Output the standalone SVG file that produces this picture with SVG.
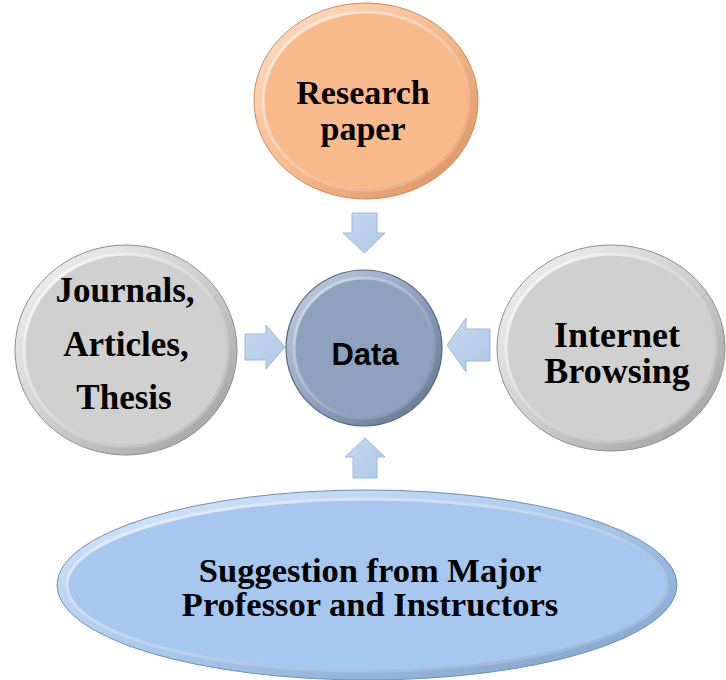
<svg xmlns="http://www.w3.org/2000/svg" width="726" height="680" viewBox="0 0 726 680">
  <style>
    text.serif { font-family: 'Liberation Serif', 'Times New Roman', Tinos, 'DejaVu Serif', serif; font-weight: 700; fill: #000000; text-anchor: middle; }
    text.sans { font-family: 'Liberation Sans', Arial, Arimo, sans-serif; font-weight: 700; fill: #000000; text-anchor: middle; }
    .arrow { fill: url(#arrowFill); stroke: #9db9dc; stroke-width: 1; }
  </style>
  <defs>
    <!-- rim gradients: light upper-left, darker lower-right -->
    <linearGradient id="rimOrange" x1="0" y1="0" x2="1" y2="1">
      <stop offset="0" stop-color="#fde3cc"/>
      <stop offset="0.5" stop-color="#f7b98c"/>
      <stop offset="1" stop-color="#d98f5c"/>
    </linearGradient>
    <linearGradient id="rimGrey" x1="0" y1="0" x2="1" y2="1">
      <stop offset="0" stop-color="#f4f4f4"/>
      <stop offset="0.5" stop-color="#cfcfcf"/>
      <stop offset="1" stop-color="#9a9a9a"/>
    </linearGradient>
    <linearGradient id="rimSteel" x1="0" y1="0" x2="1" y2="1">
      <stop offset="0" stop-color="#c5d2e4"/>
      <stop offset="0.5" stop-color="#8ea2bf"/>
      <stop offset="1" stop-color="#5f7290"/>
    </linearGradient>
    <linearGradient id="rimBlue" x1="0" y1="0" x2="1" y2="1">
      <stop offset="0" stop-color="#dbe9f8"/>
      <stop offset="0.5" stop-color="#a7c9ee"/>
      <stop offset="1" stop-color="#7e9fc6"/>
    </linearGradient>
    <!-- inset edge: light upper-left, darker lower-right -->
    <linearGradient id="insetOrange" x1="0" y1="0" x2="1" y2="1">
      <stop offset="0" stop-color="#fff3e8"/>
      <stop offset="1" stop-color="#e9a274"/>
    </linearGradient>
    <linearGradient id="insetGrey" x1="0" y1="0" x2="1" y2="1">
      <stop offset="0" stop-color="#ffffff"/>
      <stop offset="1" stop-color="#b4b4b4"/>
    </linearGradient>
    <linearGradient id="insetSteel" x1="0" y1="0" x2="1" y2="1">
      <stop offset="0" stop-color="#d9e3f0"/>
      <stop offset="1" stop-color="#7487a4"/>
    </linearGradient>
    <linearGradient id="insetBlue" x1="0" y1="0" x2="1" y2="1">
      <stop offset="0" stop-color="#eef5fd"/>
      <stop offset="1" stop-color="#8fb0d6"/>
    </linearGradient>
    <linearGradient id="arrowFill" x1="0" y1="0" x2="1" y2="1">
      <stop offset="0" stop-color="#c6d9f0"/>
      <stop offset="1" stop-color="#aec8e9"/>
    </linearGradient>
  </defs>

  <rect width="726" height="680" fill="#ffffff"/>

  <!-- connectors: block arrows pointing into the centre -->
  <g id="connectors">
    <polygon class="arrow" points="352,213 377,213 377,233 385,233 364.5,253 343,233 352,233"/>
    <polygon class="arrow" points="245,334 266,334 266,325 285,347 266,369 266,360 245,360"/>
    <polygon class="arrow" points="490,329 466,329 466,318 447,345 466,372 466,361 490,361"/>
    <polygon class="arrow" points="353,478 377,478 377,457 385,457 365,438 345,457 353,457"/>
  </g>

  <g id="research">
    <ellipse cx="366" cy="101" rx="112" ry="98" fill="url(#rimOrange)" stroke="#c98a60" stroke-width="1"/>
    <ellipse cx="366" cy="101" rx="103" ry="89" fill="#f8b98b" stroke="url(#insetOrange)" stroke-width="3"/>
    <text class="serif" font-family="'Liberation Serif', serif" x="363" y="104" font-size="34">Research</text>
    <text class="serif" font-family="'Liberation Serif', serif" x="363" y="140" font-size="34">paper</text>
  </g>

  <g id="journals">
    <ellipse cx="126" cy="350" rx="111" ry="105" fill="url(#rimGrey)" stroke="#8e8e8e" stroke-width="1"/>
    <ellipse cx="126" cy="350" rx="102" ry="96" fill="#d0d0d0" stroke="url(#insetGrey)" stroke-width="3"/>
    <text class="serif" font-family="'Liberation Serif', serif" x="125" y="302" font-size="35">Journals,</text>
    <text class="serif" font-family="'Liberation Serif', serif" x="126" y="356" font-size="35">Articles,</text>
    <text class="serif" font-family="'Liberation Serif', serif" x="124" y="409" font-size="35">Thesis</text>
  </g>

  <g id="internet">
    <ellipse cx="611" cy="348" rx="114" ry="103" fill="url(#rimGrey)" stroke="#8e8e8e" stroke-width="1"/>
    <ellipse cx="611" cy="348" rx="105" ry="94" fill="#d0d0d0" stroke="url(#insetGrey)" stroke-width="3"/>
    <text class="serif" font-family="'Liberation Serif', serif" x="617" y="347" font-size="36">Internet</text>
    <text class="serif" font-family="'Liberation Serif', serif" x="617" y="383" font-size="36">Browsing</text>
  </g>

  <g id="data">
    <circle cx="364" cy="348" r="78" fill="url(#rimSteel)" stroke="#55667f" stroke-width="1.2"/>
    <circle cx="364" cy="348" r="70" fill="#8ea2be" stroke="url(#insetSteel)" stroke-width="3"/>
    <text class="sans" font-family="'Liberation Sans', sans-serif" x="365" y="365" font-size="31">Data</text>
  </g>

  <g id="suggestion">
    <ellipse cx="367" cy="585" rx="310" ry="95" fill="url(#rimBlue)" stroke="#6f8fb5" stroke-width="1"/>
    <ellipse cx="367" cy="585" rx="300" ry="86" fill="#a6c8ee" stroke="url(#insetBlue)" stroke-width="3"/>
    <text class="serif" font-family="'Liberation Serif', serif" x="370" y="582" font-size="34.5">Suggestion from Major</text>
    <text class="serif" font-family="'Liberation Serif', serif" x="370" y="616" font-size="34.5">Professor and Instructors</text>
  </g>
</svg>
